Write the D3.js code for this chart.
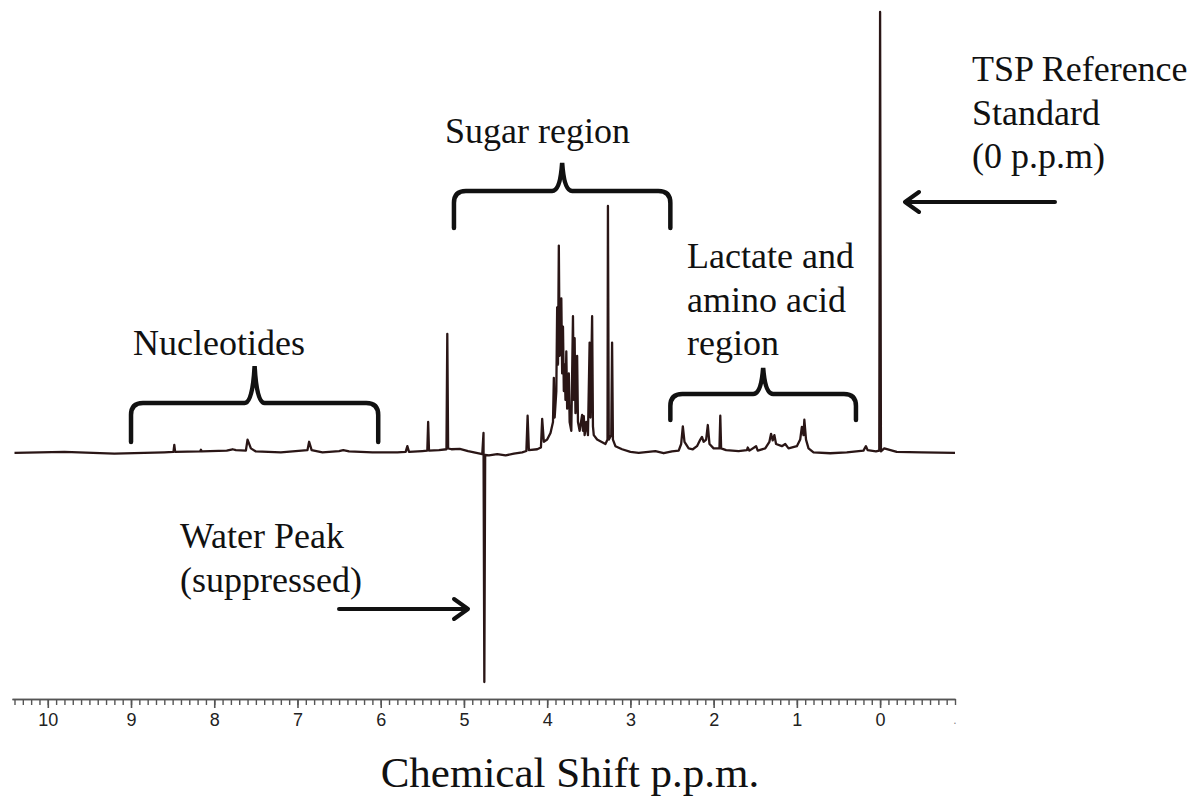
<!DOCTYPE html>
<html>
<head>
<meta charset="utf-8">
<script src="https://cdn.jsdelivr.net/npm/d3@7"></script>
<style>
    body { margin: 0; background: #fff; }
    svg { display: block; }
</style>
</head>
<body>
<div id="spectrumContainer"></div>
<script>
'use strict';

// Spectrum trace: chemical shift (ppm) and relative intensity (TSP = 100)
const shifts = [10.4, 9.8, 9.2, 8.6, 8.49, 8.48, 8.47, 8.17, 8.16, 8.15, 7.85, 7.78, 7.74, 7.62,
    7.6, 7.56, 7.5, 7.2, 6.88, 6.86, 6.83, 6.7, 6.5, 6.45, 6.38, 6.1, 5.8, 5.7, 5.68, 5.66,
    5.5, 5.44, 5.43, 5.42, 5.3, 5.21, 5.2, 5.19, 5.15, 5.05, 4.95, 4.85, 4.78,
    4.765, 4.755, 4.745, 4.7, 4.6, 4.5, 4.4, 4.3,
    4.25, 4.235, 4.22, 4.12, 4.075, 4.06, 4.04, 4.0, 3.96, 3.93, 3.92, 3.91, 3.89, 3.88, 3.87,
    3.86, 3.85, 3.83, 3.82, 3.81, 3.8, 3.79, 3.78, 3.77, 3.76, 3.74, 3.73, 3.71, 3.69, 3.68,
    3.67, 3.66, 3.64, 3.63, 3.61, 3.58, 3.57, 3.56, 3.55, 3.53, 3.51, 3.49, 3.48, 3.46, 3.45,
    3.44, 3.4, 3.35, 3.3, 3.275, 3.27, 3.26, 3.23, 3.22, 3.21, 3.18, 3.1, 3.0, 2.9, 2.7, 2.6,
    2.5, 2.42, 2.39, 2.37, 2.35, 2.3, 2.25, 2.2, 2.16, 2.14, 2.12, 2.09, 2.07, 2.05, 2.0, 1.93,
    1.92, 1.91, 1.85, 1.7, 1.6, 1.59, 1.57, 1.49, 1.47, 1.38, 1.33, 1.31, 1.29, 1.27, 1.25,
    1.18, 1.14, 1.1, 1.0, 0.96, 0.94, 0.92, 0.91, 0.89, 0.86, 0.8, 0.6, 0.4, 0.2, 0.17, 0.15,
    0.05, 0.01, 0.0, -0.01, -0.05, -0.2, -0.5, -0.9];

const intensities = [0, 0.2, -0.2, 0.1, 0.2, 1.8, 0.2, 0.3, 0.7, 0.3, 0.5, 0.8, 0.6, 0.5,
    3.0, 1.0, 0.3, 0.1, 0.6, 2.5, 0.6, 0.1, 0.4, 0.6, 0.3, 0.1, 0.1, 0.2, 1.5, 0.2,
    0.4, 0.5, 7, 0.5, 0.6, 0.8, 27, 1.0, 0.8, 0.9, 0.4, 0, -0.3,
    4.5, -52, -0.5, -0.6, -0.3, -0.6, -0.2, 0.1,
    0.4, 8.4, 0.6, 0.8, 1.2, 7.7, 2.5, 3, 4.5, 7, 17, 8, 14, 33, 20,
    47, 22, 35, 18, 28.6, 14, 20, 12, 23, 10, 18, 7, 5, 31, 12,
    26, 9, 22, 7, 5, 8.6, 5, 8.3, 4, 7, 4, 25, 8, 31, 6,
    4, 3, 2.5, 2, 3, 56, 3, 4, 25, 3, 1.5, 0.8, 0.2, 0, 0.4, -0.1,
    0.3, 0.5, 2, 6, 2.5, 1, 0.8, 1.5, 3, 3.6, 2.5, 3, 6.3, 2, 1, 1,
    8.4, 1, 0.6, 0.4, 0.6, 1.2, 0.5, 1.5, 0.5, 1, 2.5, 4.3, 2.8, 4, 2,
    1.5, 2, 1, 1.5, 3, 5.9, 4, 7.5, 3, 1, 0.1, -0.1, 0.1, 0.5, 1.5, 0.6,
    0.3, 0.5, 100, 0.3, 1, 0.2, 0.1, 0];

// Axis tick values
const majorTicks = [10, 9, 8, 7, 6, 5, 4, 3, 2, 1, 0];
const minorTicks = d3.range(104, -10, -1).map(d => d / 10);

// Bracketed regions (ppm) and their labels
const regionStart = [9.0, 5.12, 2.52];
const regionEnd = [6.03, 2.52, 0.29];
const regionLabels = [["Nucleotides"], ["Sugar region"], ["Lactate and", "amino acid", "region"]];

const axisTitle = "Chemical Shift p.p.m.";
const tspLabel = ["TSP Reference", "Standard", "(0 p.p.m)"];
const waterLabel = ["Water Peak", "(suppressed)"];

const width = 1198, height = 796;
const serif = "'Liberation Serif', 'Times New Roman', serif";

// Builds the svg element
const createSVG = () => {
    return d3.select("#spectrumContainer")
        .append("svg")
        .attr("width", width)
        .attr("height", height);
}

// x runs right to left, as NMR spectra do
const x = d3.scaleLinear().domain([10.43, -0.9]).range([12, 955]);
const y = d3.scaleLinear().domain([-52, 100]).range([682, 12]);

// Draws the ppm axis with minor and major ticks
const plotAxis = (svg) => {
    const axisY = 699;

    svg.append("g")
        .attr("transform", "translate(0," + axisY + ")")
        .call(d3.axisBottom(x).tickValues(minorTicks).tickSize(6).tickSizeOuter(0).tickFormat(""))
        .call(g => g.selectAll("line, path").attr("stroke", "#555").attr("stroke-width", 1.4));

    const major = svg.append("g")
        .attr("transform", "translate(0," + axisY + ")")
        .call(d3.axisBottom(x).tickValues(majorTicks).tickSize(9).tickSizeOuter(0).tickPadding(5));

    major.select(".domain").attr("stroke", "#555").attr("stroke-width", 1.6);
    major.selectAll("line").attr("stroke", "#555").attr("stroke-width", 1.6);
    major.selectAll("text")
        .attr("fill", "#222")
        .style("font-family", "'Liberation Sans', Arial, sans-serif")
        .style("font-size", "18px");

    // stray dot at the right end of the scale
    svg.append("text")
        .attr("x", x(-0.9))
        .attr("y", 724)
        .attr("text-anchor", "middle")
        .attr("fill", "#888")
        .style("font-family", "'Liberation Sans', Arial, sans-serif")
        .style("font-size", "12px")
        .text(".");

    svg.append("text")
        .attr("x", 570)
        .attr("y", 787)
        .attr("text-anchor", "middle")
        .attr("fill", "#111")
        .style("font-family", serif)
        .style("font-size", "43px")
        .text(axisTitle);
}

// Draws the spectrum trace
const plotSpectrum = (svg) => {
    const points = shifts.map((s, i) => [s, intensities[i]]);
    const line = d3.line()
        .x(d => x(d[0]))
        .y(d => y(d[1]));

    svg.append("path")
        .datum(points)
        .attr("fill", "none")
        .attr("stroke", "#2a1616")
        .attr("stroke-width", 2.3)
        .attr("stroke-linejoin", "round")
        .attr("d", line);
}

// Curly bracket path between two pixel positions
const bracketPath = (x1, x2, top, bottom, peak) => {
    const r = 12, mid = (x1 + x2) / 2;
    return "M" + x1 + "," + bottom +
        " L" + x1 + "," + (top + r) +
        " Q" + x1 + "," + top + " " + (x1 + r) + "," + top +
        " L" + (mid - 10) + "," + top +
        " Q" + (mid - 2) + "," + top + " " + mid + "," + peak +
        " Q" + (mid + 2) + "," + top + " " + (mid + 10) + "," + top +
        " L" + (x2 - r) + "," + top +
        " Q" + x2 + "," + top + " " + x2 + "," + (top + r) +
        " L" + x2 + "," + bottom;
}

// Adds multi-line text at a left position
const addLines = (svg, lines, left, firstBaseline) => {
    const t = svg.append("text")
        .style("font-family", serif)
        .style("font-size", "36px")
        .attr("fill", "#111");
    lines.forEach((l, i) => {
        t.append("tspan")
            .attr("x", left)
            .attr("y", firstBaseline + i * 43.5)
            .text(l);
    });
}

// Brackets, labels and arrows
const plotAnnotations = (svg) => {
    const bracketTop = [403, 191, 394];
    const bracketBottom = [442, 228, 420];
    const bracketPeak = [366, 163, 368];

    regionStart.forEach((s, i) => {
        svg.append("path")
            .attr("d", bracketPath(x(s), x(regionEnd[i]), bracketTop[i], bracketBottom[i], bracketPeak[i]))
            .attr("fill", "none")
            .attr("stroke", "#111")
            .attr("stroke-width", 4.5)
            .attr("stroke-linecap", "round");
    });

    addLines(svg, regionLabels[0], 133, 355);
    addLines(svg, regionLabels[1], 445, 143);
    addLines(svg, regionLabels[2], 687, 268);
    addLines(svg, tspLabel, 972, 81);
    addLines(svg, waterLabel, 180, 548);

    const arrow = (x1, x2, yy) => {
        const dir = x2 > x1 ? -1 : 1;
        svg.append("path")
            .attr("d", "M" + x1 + "," + yy + " L" + x2 + "," + yy +
                " M" + (x2 + dir * 14) + "," + (yy - 10) + " L" + x2 + "," + yy +
                " L" + (x2 + dir * 14) + "," + (yy + 10))
            .attr("fill", "none")
            .attr("stroke", "#111")
            .attr("stroke-width", 4)
            .attr("stroke-linecap", "round")
            .attr("stroke-linejoin", "round");
    }
    arrow(1055, 905, 202);
    arrow(339, 468, 609);
}

const svg = createSVG();
plotAxis(svg);
plotSpectrum(svg);
plotAnnotations(svg);
</script>
</body>
</html>
